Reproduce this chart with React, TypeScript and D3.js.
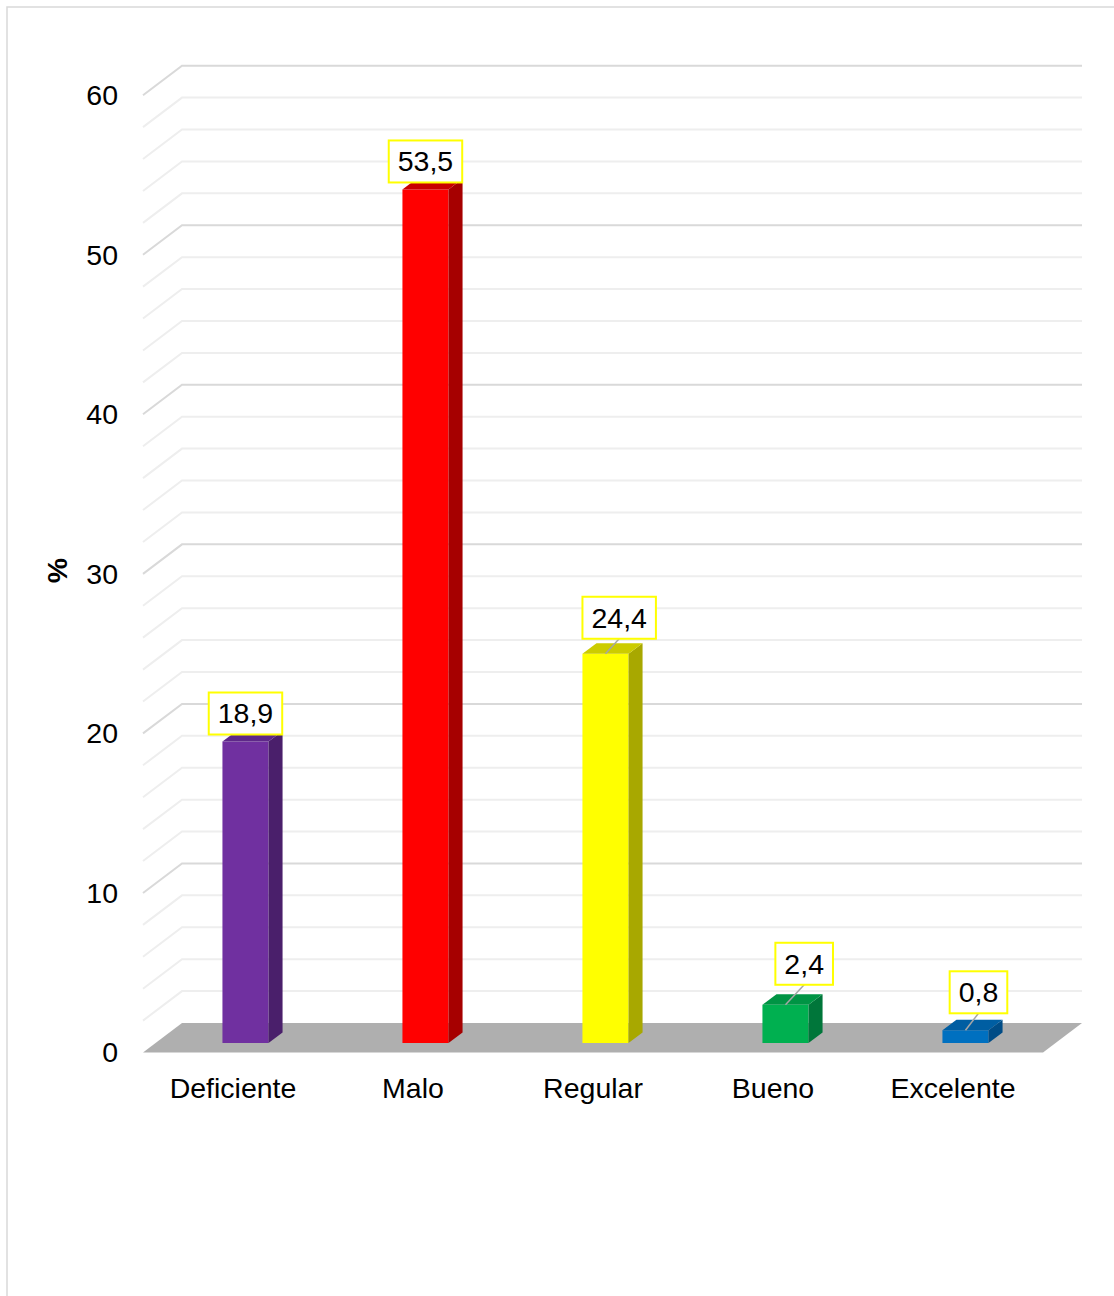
import React from "react";
import * as d3 from "d3";

const categories = ["Deficiente", "Malo", "Regular", "Bueno", "Excelente"];
const values = [18.9, 53.5, 24.4, 2.4, 0.8];
const valueLabels = ["18,9", "53,5", "24,4", "2,4", "0,8"];
const frontColors = ["#7030A0", "#FF0000", "#FFFF00", "#00B050", "#0070C0"];
const sideColors = ["#4A1F6B", "#A60000", "#A8A800", "#00763A", "#004C86"];
const topColors = ["#5E2889", "#C80000", "#CCCC00", "#009444", "#005EA2"];
const yTicks = [0, 10, 20, 30, 40, 50, 60];
const gridValues = d3.range(2, 61, 2);

// layout of the manually-placed data labels (x shift, gap above bar)
const labelShiftX = [0, 0, 13.7, 18.7, 13];
const labelGap = [7, 7, 15, 20, 17];

const W = 1114;
const H = 1296;
const FONT = "'Liberation Sans', Arial, sans-serif";
const FS = 28.5;

const xLeft = 143;
const xRight = 1043;
const yBase = 1052.5;
const DX = 39;
const DY = 29.5;
const f0 = 0.32;
const f1 = 0.68;

export default function App() {
  const x = d3.scaleBand<string>().domain(categories).range([xLeft, xRight]).padding(0);
  const yLen = d3.scaleLinear().domain([0, 60]).range([0, 957.3]);
  const P = (px: number, v: number, d: number): [number, number] => [px + d * DX, yBase - yLen(v) - d * DY];
  const pts = (arr: [number, number][]) => arr.map((p) => p.join(",")).join(" ");
  const bw = x.bandwidth();
  const barW = bw * 0.256;

  return (
    <svg width={W} height={H} style={{ position: "absolute", left: 0, top: 0, display: "block" }} fontFamily={FONT}>
      <rect x={0} y={0} width={W} height={H} fill="#fff" />
      <rect x={7} y={7} width={1300} height={1400} fill="none" stroke="#d9d9d9" strokeWidth={1.5} />
      {/* gridlines */}
      {gridValues.map((v) => {
        const major = v % 10 === 0;
        const a = P(xLeft, v, 0);
        const b = P(xLeft, v, 1);
        const c = P(xRight, v, 1);
        return (
          <polyline
            key={v}
            points={pts([a, b, c])}
            fill="none"
            stroke={major ? "#d9d9d9" : "#eeeeee"}
            strokeWidth={2}
          />
        );
      })}
      {/* floor */}
      <polygon
        points={pts([P(xLeft, 0, 0), P(xRight, 0, 0), P(xRight, 0, 1), P(xLeft, 0, 1)])}
        fill="#afafaf"
      />
      {/* y ticks */}
      {yTicks.map((t) => {
        const [, yy] = P(xLeft, t, 0);
        return (
          <text key={t} x={118} y={yy} dy="0.35em" textAnchor="end" fontSize={FS} fill="#000">
            {t}
          </text>
        );
      })}
      {/* y title */}
      <text
        transform="translate(57,570.5) rotate(-90)"
        textAnchor="middle"
        dy="0.35em"
        fontSize={FS}
        fontWeight="bold"
        fill="#000"
      >
        %
      </text>
      {/* bars */}
      {categories.map((c, i) => {
        const xl = (x(c) as number) + (bw - barW) / 2;
        const xr = xl + barW;
        const v = values[i];
        const fl = P(xl, v, f0);
        const fr = P(xr, v, f0);
        const br = P(xr, v, f1);
        const bl = P(xl, v, f1);
        const flb = P(xl, 0, f0);
        const frb = P(xr, 0, f0);
        const brb = P(xr, 0, f1);
        return (
          <g key={c}>
            <polygon points={pts([fl, fr, frb, flb])} fill={frontColors[i]} />
            <polygon points={pts([fr, br, brb, frb])} fill={sideColors[i]} />
            <polygon points={pts([fl, fr, br, bl])} fill={topColors[i]} />
          </g>
        );
      })}
      {/* category labels */}
      {categories.map((c) => (
        <text
          key={c}
          x={(x(c) as number) + bw / 2}
          y={1098}
          textAnchor="middle"
          fontSize={FS}
          fill="#000"
        >
          {c}
        </text>
      ))}
      {/* data labels */}
      {categories.map((c, i) => {
        const xl = (x(c) as number) + (bw - barW) / 2;
        const [fx, topY] = P(xl + barW / 2, values[i], f0);
        const label = valueLabels[i];
        const tw = label.split("").reduce((s, ch) => s + (ch === "," ? 0.278 : 0.556), 0) * FS;
        const boxW = tw + 18;
        const boxH = 42;
        const cx = fx + labelShiftX[i];
        const bottom = topY - labelGap[i];
        const top = bottom - boxH;
        return (
          <g key={c}>
            {labelShiftX[i] !== 0 && (
              <line x1={fx} y1={topY} x2={cx} y2={bottom} stroke="#a6a6a6" strokeWidth={1.5} />
            )}
            <rect x={cx - boxW / 2} y={top} width={boxW} height={boxH} fill="#fff" stroke="#ffff00" strokeWidth={2} />
            <text x={cx} y={top + boxH / 2} dy="0.35em" textAnchor="middle" fontSize={FS} fill="#000">
              {label}
            </text>
          </g>
        );
      })}
    </svg>
  );
}
